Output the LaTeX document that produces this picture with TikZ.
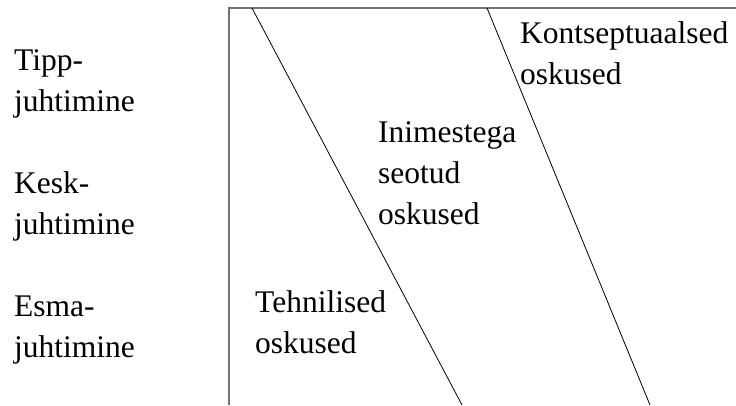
\documentclass[tikz,border=0pt]{standalone}
\usepackage{fontspec}
\setmainfont{Liberation Serif}
\begin{document}
\begin{tikzpicture}[x=1pt,y=-1pt,
  lbl/.style={anchor=base west,inner sep=0pt,align=left,
    font=\fontsize{31.5}{41}\selectfont},
  frameline/.style={draw=black!55,line width=1.5pt},
  divider/.style={draw=black,line width=0.8pt}]
\useasboundingbox (0,0) rectangle (736,405);
% frame: top edge and left edge
\coordinate (tl) at (229,8);
\coordinate (tr) at (736,8);
\coordinate (bl) at (229,405);
\draw[frameline] (tr) -- (tl) -- (bl);
% slanted dividers between skill areas
\coordinate (d1t) at (252,8);
\coordinate (d1b) at (462,405);
\coordinate (d2t) at (487,8);
\coordinate (d2b) at (650,405);
\draw[divider] (d1t) -- (d1b);
\draw[divider] (d2t) -- (d2b);
% management levels (anchored on the baseline of the last line)
\node[lbl] (tipp) at (14,111) {Tipp-\\juhtimine};
\node[lbl] (kesk) at (14,234) {Kesk-\\juhtimine};
\node[lbl] (esma) at (14,357) {Esma-\\juhtimine};
% skill areas
\node[lbl] (konts) at (520,84) {Kontseptuaalsed\\oskused};
\node[lbl] (inim) at (378,224) {Inimestega\\seotud\\oskused};
\node[lbl] (tehn) at (255,353) {Tehnilised\\oskused};
\end{tikzpicture}
\end{document}
